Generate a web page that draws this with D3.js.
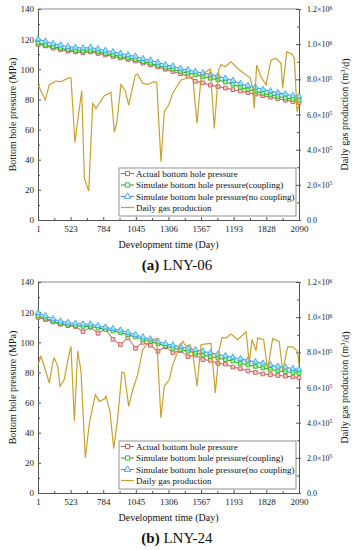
<!DOCTYPE html>
<html>
<head>
<meta charset="utf-8">
<script src="https://cdnjs.cloudflare.com/ajax/libs/d3/7.8.5/d3.min.js"></script>
<style>
  body { margin: 0; background: #fff; }
  svg { display: block; font-family: "Liberation Serif", "Times New Roman", serif; }
  .axis path, .axis line { stroke: #555; }
  .axis text { fill: #222; font-size: 9px; font-family: "Liberation Serif", serif; }
  .axis-title { font-size: 10px; fill: #111; }
  .legend-text { font-size: 9px; fill: #111; }
  .caption { font-size: 15px; fill: #111; }
</style>
</head>
<body>
<svg id="chart" width="360" height="550"></svg>
<script>
// x axis: tick days and their printed labels (labels as printed in the figure)
const tickDays = [1, 262, 523, 784, 1045, 1306, 1567, 1828, 2090]
const tickLabels = ['1', '523', '784', '1045', '1306', '1567', '1193', '1828', '2090']
const pressureTicks = [0, 20, 40, 60, 80, 100, 120, 140]
// right axis, gas in 10^5 m3/d
const gasTicks = [0, 2, 4, 6, 8, 10, 12]
const gasTickMant = ['0.0', '2.0', '4.0', '6.0', '8.0', '1.0', '1.2']
const gasTickExp = ['', '5', '5', '5', '5', '6', '6']

// days of the pressure samples (both wells)
const pDays = [1, 61, 121, 181, 241, 301, 361, 421, 481, 541, 601, 661, 721, 781, 841, 901, 961, 1021,
  1081, 1141, 1201, 1261, 1321, 1381, 1441, 1501, 1561, 1621, 1681, 1741, 1801, 1861, 1921, 1981, 2041, 2090]

// LNY-06 bottom hole pressure, MPa
const actualA = [116.5, 115.5, 114, 113, 112, 111.5, 111, 111.5, 110.5, 109.5, 108.5, 107.5, 106.5, 105.5, 104, 103, 101.5, 100,
  98.5, 97, 95.5, 92, 91, 89.5, 88.5, 87.5, 86.5, 85.5, 84.5, 83.5, 82.5, 81.5, 80.5, 79.5, 78.5, 78]
const couplingA = [117.5, 116, 115, 114, 113, 112.5, 112, 112.5, 111.5, 110.5, 109.5, 108.5, 107.5, 106.5, 105, 104, 102.5, 101,
  100, 98.5, 97.5, 96.5, 95, 94, 93, 91.5, 90, 88, 86.5, 85.5, 84, 83, 82, 81, 80, 79.5]
const noCouplingA = [120, 118.5, 117, 116, 115, 114.5, 114, 114.5, 113.5, 112.5, 111.5, 110.5, 109.5, 108.5, 107, 106, 104.5, 103,
  102, 100.5, 99.5, 98.5, 97.5, 96.5, 95.5, 94, 92.5, 90.5, 89, 88, 86.5, 85.5, 84.5, 83.5, 82.5, 82]

// LNY-06 daily gas production, 10^5 m3/d
const gasDaysA = [1, 59, 91, 145, 185, 252, 265, 297, 319, 351, 372, 407, 439, 465, 532, 585, 612, 633, 665, 700,
  727, 780, 799, 839, 879, 932, 951, 985, 1012, 1047, 1079, 1119, 1146, 1199, 1239, 1274, 1306, 1346, 1380, 1412,
  1447, 1466, 1500, 1546, 1599, 1666, 1700, 1719, 1732, 1751, 1786, 1826, 1866, 1906, 1946, 1959, 1992, 2034, 2053, 2074, 2090]
const gasA = [7.71, 6.82, 7.68, 7.90, 7.87, 8.09, 8.06, 4.41, 5.66, 7.34, 2.37, 1.65, 6.63, 6.34, 7.07, 7.26, 4.99, 5.59, 7.71, 7.34,
  6.54, 8.25, 8.29, 7.77, 7.71, 7.87, 7.83, 3.32, 6.16, 6.54, 7.20, 7.68, 7.96, 8.06, 8.14, 5.50, 8.14, 8.43, 8.59, 5.21,
  8.53, 8.85, 8.72, 9.00, 8.62, 8.25, 8.09, 7.49, 6.34, 8.81, 8.14, 7.68, 9.09, 9.20, 8.91, 7.49, 9.57, 9.43, 9.20, 6.16, 6.54]

// LNY-24 bottom hole pressure, MPa
const actualB = [116.5, 115, 113.5, 112, 111, 110.5, 107, 110, 106, 109, 102, 98.5, 103, 96, 100, 98, 94, 97,
  93, 94.5, 90.5, 91.5, 88.5, 88, 86, 85.5, 83.5, 82.5, 81, 80, 79, 78.5, 78, 77.5, 77, 76.5]
const couplingB = [117.5, 116, 114, 112.5, 111.5, 111, 110.5, 110.5, 109.5, 108.5, 107.5, 106.5, 105, 103.5, 102, 100.5, 99, 97.5,
  96, 95, 94, 93, 91.5, 90.5, 89.5, 88.5, 87.5, 86, 85, 84, 83, 82, 81, 80.5, 80, 79.5]
const noCouplingB = [119.5, 117.5, 115.5, 114, 113, 112.5, 112, 112, 111, 110, 109, 108, 106.5, 105, 103.5, 102, 100.5, 99,
  98, 97, 96, 95, 94, 93, 92, 91, 90, 89, 88, 87, 86, 85, 84, 83.5, 82.5, 82]

// LNY-24 daily gas production, 10^5 m3/d
const gasDaysB = [1, 25, 51, 91, 119, 131, 159, 177, 211, 244, 265, 292, 319, 345, 380, 412, 460, 492, 532, 545,
  577, 607, 639, 673, 692, 727, 759, 799, 839, 905, 951, 985, 1012, 1052, 1079, 1132, 1159, 1186, 1218, 1239,
  1274, 1306, 1346, 1386, 1420, 1452, 1474, 1506, 1546, 1599, 1666, 1692, 1714, 1746, 1759, 1807, 1839, 1879, 1932, 1959,
  1999, 2039, 2079, 2090]
const gasB = [7.29, 7.77, 7.21, 6.26, 7.40, 7.68, 7.21, 6.07, 6.45, 7.68, 8.34, 4.11, 8.09, 6.92, 1.99, 3.98, 5.59, 5.21, 5.35, 5.50,
  4.65, 2.52, 4.27, 6.87, 6.82, 4.93, 5.87, 6.73, 8.15, 8.72, 8.78, 4.27, 6.07, 6.45, 7.29, 8.25, 8.62, 8.34, 8.43, 7.96,
  6.07, 8.43, 8.48, 8.51, 5.69, 8.15, 8.85, 8.81, 9.04, 8.72, 9.17, 7.40, 8.72, 8.09, 8.81, 8.72, 7.01, 8.78, 8.62, 6.92,
  8.31, 8.31, 8.06, 7.29]

const legendNames = ['Actual bottom hole pressure', 'Simulate bottom hole pressure(coupling)',
  'Simulate bottom hole pressure(no coupling)', 'Daily gas production']

const styles = [
  { line: '#b0604c', stroke: '#c0504d', fill: '#ffc4c4', shape: d3.symbolSquare, size: 14 },
  { line: '#1fa51f', stroke: '#22b022', fill: '#8dff8d', shape: d3.symbolSquare, size: 14 },
  { line: '#4a8fdc', stroke: '#4a90e2', fill: '#7ff4ff', shape: d3.symbolTriangle, size: 16 }
]
const gasColor = '#c9a12f'

const svg = d3.select('#chart')
const left = 38, right = 299, plotH = 211

const x = d3.scaleLinear().domain([1, 2090]).range([left, right])
const xMinor = d3.pairs(tickDays).map(p => (p[0] + p[1]) / 2)

function drawPanel(top, pSeries, gDays, gVals, tag, well) {
  const bottom = top + plotH
  const y = d3.scaleLinear().domain([0, 140]).range([bottom, top])
  const yr = d3.scaleLinear().domain([0, 12]).range([bottom, top])
  const g = svg.append('g')

  // frame top
  g.append('line')
    .attr('x1', left).attr('x2', right)
    .attr('y1', top).attr('y2', top)
    .attr('stroke', '#888')

  // left axis
  g.append('g').attr('class', 'axis')
    .attr('transform', `translate(${left},0)`)
    .call(d3.axisLeft(y).tickValues(pressureTicks).tickSizeInner(-3).tickSizeOuter(0).tickPadding(4))
  g.append('g').attr('class', 'axis')
    .attr('transform', `translate(${left},0)`)
    .call(d3.axisLeft(y).tickValues(d3.pairs(pressureTicks).map(p => (p[0] + p[1]) / 2))
      .tickSizeInner(-2).tickSizeOuter(0).tickFormat(''))
    .select('.domain').remove()

  // bottom axis
  g.append('g').attr('class', 'axis')
    .attr('transform', `translate(0,${bottom})`)
    .call(d3.axisBottom(x).tickValues(tickDays).tickFormat((d, i) => tickLabels[i])
      .tickSizeInner(-3).tickSizeOuter(0).tickPadding(5.5))
  g.append('g').attr('class', 'axis')
    .attr('transform', `translate(0,${bottom})`)
    .call(d3.axisBottom(x).tickValues(xMinor).tickSizeInner(-2).tickSizeOuter(0).tickFormat(''))
    .select('.domain').remove()

  // right axis
  const ra = g.append('g').attr('class', 'axis')
    .attr('transform', `translate(${right},0)`)
    .call(d3.axisRight(yr).tickValues(gasTicks).tickSizeInner(2).tickSizeOuter(0).tickPadding(6))
  ra.selectAll('.tick line').attr('x1', -3)
  ra.selectAll('.tick text')
    .style('font-size', '8px')
    .each(function (d, i) {
      const t = d3.select(this)
      t.text(null)
      t.append('tspan').text(gasTickExp[i] ? gasTickMant[i] + '×10' : gasTickMant[i])
      if (gasTickExp[i]) {
        t.append('tspan').attr('dy', '-0.45em').style('font-size', '5.5px').text(gasTickExp[i])
      }
    })
  g.append('g').attr('class', 'axis')
    .attr('transform', `translate(${right},0)`)
    .call(d3.axisRight(yr).tickValues(d3.pairs(gasTicks).map(p => (p[0] + p[1]) / 2))
      .tickSizeInner(-2).tickSizeOuter(0).tickFormat(''))
    .select('.domain').remove()

  // axis titles
  g.append('text')
    .attr('class', 'axis-title')
    .attr('transform', `translate(16,${(top + bottom) / 2}) rotate(-90)`)
    .attr('text-anchor', 'middle')
    .text('Bottom hole pressure (MPa)')

  const rt = g.append('text')
    .attr('class', 'axis-title')
    .attr('transform', `translate(348,${(top + bottom) / 2}) rotate(-90)`)
    .attr('text-anchor', 'middle')
  rt.append('tspan').text('Daily gas production (m')
  rt.append('tspan').attr('dy', '-0.4em').style('font-size', '7px').text('3')
  rt.append('tspan').attr('dy', '0.4em').text('/d)')

  g.append('text')
    .attr('class', 'axis-title')
    .attr('x', (left + right) / 2)
    .attr('y', bottom + 28)
    .attr('text-anchor', 'middle')
    .text('Development time (Day)')

  const cap = g.append('text')
    .attr('class', 'caption')
    .attr('x', 177)
    .attr('y', top + 261)
    .attr('text-anchor', 'middle')
  cap.append('tspan').style('font-weight', 'bold').text(`(${tag})`)
  cap.append('tspan').text(` ${well}`)

  // pressure series
  pSeries.forEach((vals, si) => {
    const st = styles[si]
    const pts = vals.map((v, i) => ({ d: pDays[i], v: v }))
    const line = d3.line().x(p => x(p.d)).y(p => y(p.v))
    g.append('path')
      .attr('d', line(pts))
      .attr('fill', 'none')
      .attr('stroke', st.line)
      .attr('stroke-width', 1)
    g.append('g')
      .selectAll('path')
      .data(pts)
      .enter()
      .append('path')
      .attr('transform', p => `translate(${x(p.d)},${y(p.v)})`)
      .attr('d', d3.symbol().type(st.shape).size(st.size))
      .attr('fill', st.fill)
      .attr('stroke', st.stroke)
      .attr('stroke-width', 0.8)
  })

  // gas production
  const gasLine = d3.line().x((d, i) => x(gDays[i])).y(d => yr(d))
  g.append('path')
    .attr('d', gasLine(gVals))
    .attr('fill', 'none')
    .attr('stroke', gasColor)
    .attr('stroke-width', 1.2)

  // legend
  const lg = g.append('g')
  lg.append('rect')
    .attr('x', 119).attr('y', bottom - 52)
    .attr('width', 177).attr('height', 48)
    .attr('fill', '#fff')
    .attr('stroke', '#777')
    .attr('stroke-width', 0.8)
  const rows = [46.5, 35, 23.5, 12.5]
  legendNames.forEach((name, i) => {
    const ly = bottom - rows[i]
    const col = i < 3 ? styles[i].line : gasColor
    lg.append('line')
      .attr('x1', 121).attr('x2', 134)
      .attr('y1', ly).attr('y2', ly)
      .attr('stroke', col)
      .attr('stroke-width', i < 3 ? 1 : 1.2)
    if (i < 3) {
      lg.append('path')
        .attr('transform', `translate(127.5,${ly})`)
        .attr('d', d3.symbol().type(styles[i].shape).size(18))
        .attr('fill', '#fff')
        .attr('stroke', styles[i].stroke)
        .attr('stroke-width', 0.9)
    }
    lg.append('text')
      .attr('class', 'legend-text')
      .attr('x', 136)
      .attr('y', ly + 3)
      .text(name)
  })
}

drawPanel(9, [actualA, couplingA, noCouplingA], gasDaysA, gasA, 'a', 'LNY-06')
drawPanel(282, [actualB, couplingB, noCouplingB], gasDaysB, gasB, 'b', 'LNY-24')
</script>
</body>
</html>
